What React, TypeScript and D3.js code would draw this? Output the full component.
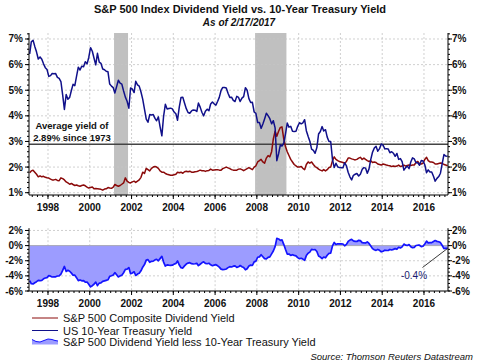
import React from 'react';
import * as d3 from 'd3';

// Monthly values, Feb 1997 .. Feb 2017 (percent)
const treasuryYield: number[] = [
  // 1997 Feb-Dec
  6.42, 6.89, 6.95, 6.71, 6.49, 6.22, 6.30, 6.21, 6.03, 5.88, 5.81,
  // 1998
  5.54, 5.57, 5.65, 5.64, 5.65, 5.50, 5.46, 5.34, 4.81, 4.25, 4.83, 4.65,
  // 1999
  4.72, 5.00, 5.23, 5.18, 5.54, 5.90, 5.79, 5.94, 5.92, 6.11, 6.03, 6.28,
  // 2000
  6.66, 6.52, 6.26, 5.99, 6.44, 6.10, 6.05, 5.83, 5.80, 5.74, 5.72, 5.24,
  // 2001
  5.16, 5.10, 4.89, 5.14, 5.39, 5.28, 5.24, 4.97, 4.73, 4.57, 4.30, 5.09,
  // 2002
  5.04, 4.91, 5.35, 5.21, 5.16, 4.93, 4.65, 4.26, 3.87, 3.75, 4.05, 4.03,
  // 2003
  4.05, 3.90, 3.81, 3.96, 3.57, 3.22, 3.98, 4.45, 4.27, 4.29, 4.30, 4.27,
  // 2004
  4.15, 4.08, 3.83, 4.35, 4.72, 4.73, 4.50, 4.28, 4.13, 4.10, 4.19, 4.23,
  // 2005
  4.22, 4.17, 4.50, 4.34, 4.14, 4.00, 4.18, 4.26, 4.20, 4.46, 4.54, 4.47,
  // 2006
  4.42, 4.57, 4.72, 4.99, 5.11, 5.11, 5.09, 4.88, 4.72, 4.73, 4.60, 4.56,
  // 2007
  4.76, 4.72, 4.56, 4.69, 4.75, 5.10, 5.00, 4.67, 4.52, 4.53, 4.15, 4.10,
  // 2008
  3.74, 3.74, 3.51, 3.68, 3.88, 4.10, 4.01, 3.89, 3.69, 3.81, 3.53, 2.25,
  // 2009
  2.52, 2.87, 2.82, 2.93, 3.29, 3.72, 3.56, 3.59, 3.40, 3.39, 3.40, 3.59,
  // 2010
  3.73, 3.69, 3.73, 3.85, 3.42, 3.20, 3.01, 2.70, 2.65, 2.54, 2.76, 3.29,
  // 2011
  3.39, 3.58, 3.41, 3.46, 3.17, 3.00, 3.00, 2.30, 1.98, 2.15, 2.01, 1.98,
  // 2012
  1.97, 1.97, 2.17, 2.05, 1.80, 1.62, 1.50, 1.68, 1.72, 1.75, 1.65, 1.72,
  // 2013
  1.91, 1.98, 1.96, 1.76, 1.93, 2.30, 2.58, 2.74, 2.81, 2.62, 2.72, 2.90,
  // 2014
  2.86, 2.71, 2.72, 2.71, 2.56, 2.60, 2.54, 2.42, 2.53, 2.30, 2.33, 2.21,
  // 2015
  1.88, 1.98, 2.04, 1.94, 2.20, 2.36, 2.32, 2.17, 2.17, 2.07, 2.26, 2.24,
  // 2016
  2.09, 1.78, 1.89, 1.81, 1.81, 1.64, 1.45, 1.56, 1.63, 1.76, 2.14, 2.49,
  // 2017 Jan-Feb
  2.43, 2.42,
];

const dividendYield: number[] = [
  // 1997 Feb-Dec
  1.78, 1.85, 1.88, 1.80, 1.72, 1.62, 1.66, 1.62, 1.64, 1.60, 1.58,
  // 1998
  1.57, 1.53, 1.50, 1.50, 1.52, 1.48, 1.47, 1.58, 1.55, 1.50, 1.42, 1.38,
  // 1999
  1.33, 1.36, 1.32, 1.28, 1.30, 1.27, 1.25, 1.28, 1.30, 1.27, 1.22, 1.18,
  // 2000
  1.20, 1.22, 1.15, 1.16, 1.15, 1.14, 1.13, 1.10, 1.14, 1.15, 1.20, 1.18,
  // 2001
  1.17, 1.22, 1.32, 1.28, 1.25, 1.28, 1.33, 1.38, 1.58, 1.45, 1.40, 1.38,
  // 2002
  1.42, 1.45, 1.40, 1.45, 1.50, 1.60, 1.80, 1.75, 1.95, 1.90, 1.85, 1.95,
  // 2003
  2.00, 2.02, 2.00, 1.95, 1.85, 1.80, 1.80, 1.75, 1.72, 1.70, 1.68, 1.68,
  // 2004
  1.70, 1.72, 1.80, 1.78, 1.80, 1.76, 1.82, 1.84, 1.82, 1.84, 1.80, 1.80,
  // 2005
  1.82, 1.83, 1.85, 1.88, 1.86, 1.86, 1.83, 1.86, 1.87, 1.92, 1.88, 1.89,
  // 2006
  1.90, 1.90, 1.88, 1.88, 1.94, 1.97, 2.00, 1.97, 1.94, 1.90, 1.88, 1.88,
  // 2007
  1.88, 1.92, 1.93, 1.90, 1.86, 1.90, 1.94, 1.98, 1.94, 1.90, 2.00, 2.05,
  // 2008
  2.20, 2.25, 2.30, 2.20, 2.15, 2.35, 2.45, 2.40, 2.60, 3.10, 3.40, 3.20,
  // 2009
  3.40, 3.55, 3.57, 3.10, 2.80, 2.60, 2.45, 2.30, 2.20, 2.10, 2.05, 2.00,
  // 2010
  2.00, 2.02, 1.95, 1.90, 2.10, 2.20, 2.15, 2.20, 2.10, 2.02, 1.98, 1.92,
  // 2011
  1.88, 1.85, 1.90, 1.85, 1.90, 1.98, 2.00, 2.25, 2.40, 2.30, 2.25, 2.22,
  // 2012
  2.20, 2.18, 2.15, 2.22, 2.35, 2.35, 2.32, 2.30, 2.28, 2.30, 2.35, 2.38,
  // 2013
  2.30, 2.35, 2.30, 2.25, 2.22, 2.25, 2.18, 2.20, 2.18, 2.12, 2.10, 2.08,
  // 2014
  2.12, 2.10, 2.08, 2.06, 2.05, 2.02, 2.04, 2.02, 2.04, 2.08, 2.02, 2.04,
  // 2015
  2.08, 2.04, 2.06, 2.08, 2.06, 2.08, 2.08, 2.18, 2.22, 2.12, 2.12, 2.15,
  // 2016
  2.30, 2.38, 2.25, 2.20, 2.20, 2.18, 2.12, 2.12, 2.14, 2.16, 2.15, 2.10,
  // 2017 Jan-Feb
  2.08, 2.05,
];

const yearTicks = [1998, 2000, 2002, 2004, 2006, 2008, 2010, 2012, 2014, 2016];
const topYTicks = [1, 2, 3, 4, 5, 6, 7];
const bottomYTicks = [-6, -4, -2, 0, 2];
const recessions: [string, string][] = [
  ['2001-03-01', '2001-11-01'],
  ['2007-12-01', '2009-06-01'],
];
const averageYield = 2.89;
const averageLabel = ['Average yield of', '2.89% since 1973'];
const lastSpreadLabel = '-0.4%';
const legendLabels = [
  'S&P 500 Composite Dividend Yield',
  'US 10-Year Treasury Yield',
  'S&P 500 Dividend Yield less 10-Year Treasury Yield',
];

const FONT = '"Liberation Sans", Arial, Helvetica, sans-serif';
const NAVY = '#10108a';
const RED = '#8b0a0a';
const BLUE = '#1414ff';
const FILL = '#9c9cff';
const GRID = '#c4c4c4';

const dates = treasuryYield.map((_, i) =>
  i === treasuryYield.length - 1 ? new Date(2017, 1, 17) : new Date(1997, 1 + i, 15)
);
const series = dates.map((d, i) => ({
  date: d,
  tsy: treasuryYield[i],
  div: dividendYield[i],
  spread: dividendYield[i] - treasuryYield[i],
}));

const L = 29, R = 448;
const x = d3.scaleTime().domain([new Date(1997, 1, 3), new Date(2017, 1, 24)]).range([L, R]);
const yTop = d3.scaleLinear().domain([0.91, 7.234]).range([195, 33]);
const yBot = d3.scaleLinear().domain([-6, 2.3]).range([291, 228.2]);

const topTop = yTop.range()[1], topBottom = yTop.range()[0];
const botTop = yBot.range()[1], botBottom = yBot.range()[0];

const minorX = d3.timeMonth.every(3)!.range(new Date(1997, 3, 1), new Date(2017, 1, 24));

function YAxis({ scale, ticks, minorStep, side }: any) {
  const [d0, d1] = scale.domain();
  const minors = d3.range(Math.ceil(d0 / minorStep) * minorStep, d1 + 1e-9, minorStep);
  const xPos = side === 'left' ? L : R;
  const dir = side === 'left' ? -1 : 1;
  const [r0, r1] = scale.range();
  return (
    <g>
      <line x1={xPos} x2={xPos} y1={r1} y2={r0} stroke="#000" strokeWidth={1} />
      {minors.map((v: number, i: number) => (
        <line key={'m' + i} x1={xPos} x2={xPos + dir * 2} y1={scale(v)} y2={scale(v)} stroke="#000" />
      ))}
      {ticks.map((v: number) => (
        <g key={v}>
          <line x1={xPos} x2={xPos + dir * 4} y1={scale(v)} y2={scale(v)} stroke="#000" />
          <text
            x={side === 'left' ? 23 : 452}
            y={scale(v)}
            dy="0.35em"
            textAnchor={side === 'left' ? 'end' : 'start'}
            fontFamily={FONT}
            fontWeight="bold"
            fontSize={10}
            fill="#111"
          >
            {v}%
          </text>
        </g>
      ))}
    </g>
  );
}

function XAxis({ y, labelY }: { y: number; labelY: number }) {
  return (
    <g>
      <line x1={L} x2={R} y1={y} y2={y} stroke="#000" />
      {minorX.map((d, i) => (
        <line key={i} x1={x(d)} x2={x(d)} y1={y} y2={y + 2} stroke="#000" />
      ))}
      {yearTicks.map((yr) => (
        <g key={yr}>
          <line x1={x(new Date(yr, 0, 1))} x2={x(new Date(yr, 0, 1))} y1={y} y2={y + 4} stroke="#000" />
          <text
            x={x(new Date(yr, 0, 1))}
            y={labelY}
            textAnchor="middle"
            fontFamily={FONT}
            fontWeight="bold"
            fontSize={10}
            fill="#111"
          >
            {yr}
          </text>
        </g>
      ))}
    </g>
  );
}

function Grid({ yScale, ticks, top, bottom }: any) {
  return (
    <g stroke={GRID} strokeWidth={0.8} strokeDasharray="2,2">
      {ticks.map((v: number) => (
        <line key={'h' + v} x1={L} x2={R} y1={yScale(v)} y2={yScale(v)} />
      ))}
      {yearTicks.map((yr) => (
        <line key={'v' + yr} x1={x(new Date(yr, 0, 1))} x2={x(new Date(yr, 0, 1))} y1={top} y2={bottom} />
      ))}
    </g>
  );
}

export default function App() {
  const tsyLine = d3.line<any>().x((d) => x(d.date)).y((d) => yTop(d.tsy));
  const divLine = d3.line<any>().x((d) => x(d.date)).y((d) => yTop(d.div));
  const spreadLine = d3.line<any>().x((d) => x(d.date)).y((d) => yBot(d.spread));
  const spreadArea = d3.area<any>().x((d) => x(d.date)).y0(yBot(0)).y1((d) => yBot(d.spread));

  const last = series[series.length - 1];
  const lastX = x(last.date);
  const lastY = yBot(last.spread);

  // legend swatch for the area
  const swatchPts: [number, number][] = [
    [32, 339.5], [36, 341.5], [40, 342], [44, 340.5], [48, 339], [52, 339.5], [55, 340.5], [58, 341],
  ];
  const swatchArea = d3.area<[number, number]>().x((d) => d[0]).y0(344.5).y1((d) => d[1]);
  const swatchLine = d3.line<[number, number]>().x((d) => d[0]).y((d) => d[1]);

  return (
    <svg
      width={479}
      height={363}
      viewBox="0 0 479 363"
      style={{ position: 'absolute', left: 0, top: 0, background: '#fff' }}
    >
      <rect x={0} y={0} width={479} height={363} fill="#fff" />
      <text x={240} y={12.5} textAnchor="middle" fontFamily={FONT} fontWeight="bold" fontSize={11} fill="#111">
        S&amp;P 500 Index Dividend Yield vs. 10-Year Treasury Yield
      </text>
      <text x={239} y={26} textAnchor="middle" fontFamily={FONT} fontStyle="italic" fontWeight="bold" fontSize={10} fill="#111">
        As of 2/17/2017
      </text>

      {/* Top panel */}
      {recessions.map(([a, b], i) => (
        <rect
          key={i}
          x={x(new Date(a))}
          width={x(new Date(b)) - x(new Date(a))}
          y={topTop}
          height={topBottom - topTop}
          fill="#c0c0c0"
        />
      ))}
      <Grid yScale={yTop} ticks={topYTicks} top={topTop} bottom={topBottom} />
      <line x1={L} x2={R} y1={yTop(averageYield)} y2={yTop(averageYield)} stroke="#444" strokeWidth={1.6} />
      <text x={72} y={129} textAnchor="middle" fontFamily={FONT} fontWeight="bold" fontSize={9.5} fill="#111">
        {averageLabel[0]}
      </text>
      <text x={72} y={141} textAnchor="middle" fontFamily={FONT} fontWeight="bold" fontSize={9.5} fill="#111">
        {averageLabel[1]}
      </text>
      <path d={divLine(series) || ''} fill="none" stroke={RED} strokeWidth={1.5} strokeLinejoin="round" />
      <path d={tsyLine(series) || ''} fill="none" stroke={NAVY} strokeWidth={1.5} strokeLinejoin="round" />
      <YAxis scale={yTop} ticks={topYTicks} minorStep={0.2} side="left" />
      <YAxis scale={yTop} ticks={topYTicks} minorStep={0.2} side="right" />
      <XAxis y={topBottom} labelY={210.5} />

      {/* Bottom panel */}
      <Grid yScale={yBot} ticks={bottomYTicks.filter((v) => v !== 0 && v !== -6)} top={botTop} bottom={botBottom} />
      <path d={spreadArea(series) || ''} fill={FILL} />
      <line x1={L} x2={R} y1={yBot(0)} y2={yBot(0)} stroke="#a8a8b8" strokeWidth={1} />
      <path d={spreadLine(series) || ''} fill="none" stroke={BLUE} strokeWidth={1.7} strokeLinejoin="round" />
      <YAxis scale={yBot} ticks={bottomYTicks} minorStep={0.5} side="left" />
      <YAxis scale={yBot} ticks={bottomYTicks} minorStep={0.5} side="right" />
      <XAxis y={botBottom} labelY={306.5} />
      <line x1={422.5} y1={267.5} x2={lastX} y2={lastY} stroke="#222" strokeWidth={0.9} />
      <text x={414} y={279} textAnchor="middle" fontFamily={FONT} fontSize={10} fill="#1a1a70">
        {lastSpreadLabel}
      </text>

      {/* Legend */}
      <line x1={32} x2={58} y1={318} y2={318} stroke={RED} strokeWidth={1} />
      <text x={63} y={322} fontFamily={FONT} fontSize={11} fill="#111">{legendLabels[0]}</text>
      <line x1={32} x2={58} y1={330.5} y2={330.5} stroke={NAVY} strokeWidth={1} />
      <text x={63} y={334.5} fontFamily={FONT} fontSize={11} fill="#111">{legendLabels[1]}</text>
      <path d={swatchArea(swatchPts) || ''} fill={FILL} />
      <path d={swatchLine(swatchPts) || ''} fill="none" stroke={BLUE} strokeWidth={1} />
      <text x={63} y={346} fontFamily={FONT} fontSize={11} fill="#111">{legendLabels[2]}</text>

      <text x={473} y={360} textAnchor="end" fontFamily={FONT} fontStyle="italic" fontSize={9.5} fill="#111">
        Source: Thomson Reuters Datastream
      </text>
    </svg>
  );
}
